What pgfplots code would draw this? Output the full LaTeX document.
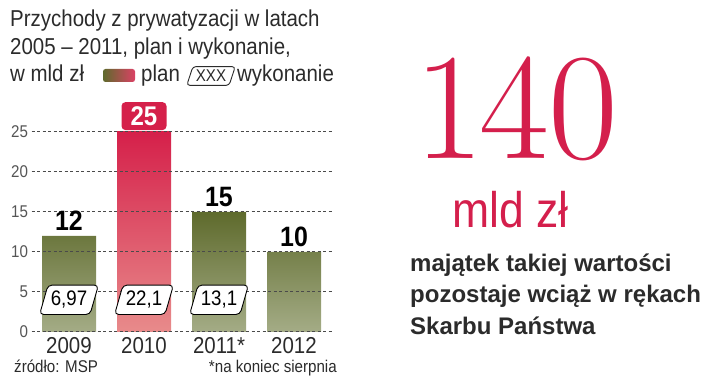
\documentclass[border=0pt]{standalone}
\usepackage{fontspec}
\usepackage{graphicx}
\usepackage{pgfplots}
\pgfplotsset{compat=1.18}
\usetikzlibrary{shapes.geometric}
\newfontfamily\cond[FakeStretch=0.89]{Liberation Sans}
\newfontfamily\sans{Liberation Sans}
\definecolor{gtop}{HTML}{5E6A2C}
\definecolor{gbot}{HTML}{A4AC86}
\definecolor{rtop}{HTML}{D5204A}
\definecolor{rbot}{HTML}{E88B8B}
\definecolor{txt}{HTML}{2B2B2B}
\definecolor{red140}{HTML}{D41F4C}
\definecolor{gridc}{HTML}{4A4A4A}
\begin{document}
\begin{tikzpicture}[x=1pt,y=1pt]
\useasboundingbox (0,0) rectangle (720,387);
\begin{axis}[at={(42,69)}, anchor=south west, scale only axis,
  width=300pt, height=200pt, xmin=-0.5, xmax=3.5, ymin=0, ymax=25,
  clip=false, axis line style={draw=none}, major tick length=0pt,
  ytick={0,5,10,15,20,25}, xtick={0,1,2,3},
  xticklabels={2009,2010,2011*,2012},
  /pgf/number format/assume math mode=true,
  yticklabel style={font=\cond\fontsize{17}{17}\selectfont, text=txt!80},
  xticklabel style={font=\cond\fontsize{23}{23}\selectfont, text=txt, anchor=base, yshift=-22pt},
]
\addplot[ybar, bar width=54pt, bar shift=0pt, draw=none, top color=gtop, bottom color=gbot] coordinates {(0,12) (2,15) (3,10)};
\addplot[ybar, bar width=54pt, bar shift=0pt, draw=none, top color=rtop, bottom color=rbot] coordinates {(1,25)};
\draw[gridc, line width=1pt, dash pattern=on 3pt off 2.5pt] (axis cs:-0.5,0) -- (axis cs:3.5,0);
\draw[gridc, line width=1pt, dash pattern=on 3pt off 2.5pt] (axis cs:-0.5,5) -- (axis cs:3.5,5);
\draw[gridc, line width=1pt, dash pattern=on 3pt off 2.5pt] (axis cs:-0.5,10) -- (axis cs:3.5,10);
\draw[gridc, line width=1pt, dash pattern=on 3pt off 2.5pt] (axis cs:-0.5,15) -- (axis cs:3.5,15);
\draw[gridc, line width=1pt, dash pattern=on 3pt off 2.5pt] (axis cs:-0.5,20) -- (axis cs:3.5,20);
\draw[gridc, line width=1pt, dash pattern=on 3pt off 2.5pt] (axis cs:-0.5,25) -- (axis cs:3.5,25);
% top values
\addplot[draw=none, mark=none, nodes near coords, point meta=explicit symbolic,
  every node near coord/.style={anchor=base, yshift=5.5pt, text=black, font=\cond\bfseries\fontsize{28}{28}\selectfont}]
  coordinates {(0,12)[12] (2,15)[15] (3,10)[10]};
\addplot[draw=none, mark=none, nodes near coords, point meta=explicit symbolic,
  every node near coord/.style={anchor=south, yshift=1.5pt, fill=rtop, text=white, rounded corners=4pt,
  minimum width=45pt, minimum height=28pt, inner sep=1pt, font=\cond\bfseries\fontsize{27}{27}\selectfont}]
  coordinates {(1,25)[25]};
% execution values
\addplot[draw=none, mark=none, nodes near coords, point meta=explicit symbolic,
  every node near coord/.style={anchor=center, shape=trapezium, trapezium left angle=74, trapezium right angle=106,
  draw=black, line width=0.9pt, fill=white, rounded corners=4pt, text=black,
  text width=40pt, align=center, inner xsep=1pt, inner ysep=6pt,
  font=\cond\fontsize{21}{21}\selectfont}]
  coordinates {(0,4)[6,97] (1,4)[22,1] (2,4)[13,1]};
\end{axis}
% title
\node[anchor=base west, inner sep=0, text=txt, font=\cond\fontsize{23}{23}\selectfont] at (10,360) {Przychody z prywatyzacji w latach};
\node[anchor=base west, inner sep=0, text=txt, font=\cond\fontsize{23}{23}\selectfont] at (10,332) {2005 – 2011, plan i wykonanie,};
\node[anchor=base west, inner sep=0, text=txt, font=\cond\fontsize{23}{23}\selectfont] at (10,305) {w mld zł};
\shade[left color=gtop, right color=rtop!85, rounded corners=2.5pt] (103,305) rectangle (135,318);
\node[anchor=base west, inner sep=0, text=txt, font=\cond\fontsize{23}{23}\selectfont] at (141,305) {plan};
\node[shape=trapezium, trapezium left angle=72, trapezium right angle=108, draw=txt, line width=0.9pt,
  rounded corners=3pt, inner xsep=3pt, inner ysep=3.5pt, text=txt, font=\cond\fontsize{17}{17}\selectfont] at (211,311) {XXX};
\node[anchor=base west, inner sep=0, text=txt, font=\cond\fontsize{23}{23}\selectfont] at (237,305) {wykonanie};
% footnotes
\node[anchor=base west, inner sep=0, text=txt, font=\cond\fontsize{17}{17}\selectfont] at (14,14) {źródło: MSP};
\node[anchor=base east, inner sep=0, text=txt, font=\cond\fontsize{17}{17}\selectfont] at (337,14) {*na koniec sierpnia};
% right side
\node[anchor=base west, inner sep=0, text=red140] at (414,228) {\fontsize{152}{152}\selectfont 1\kern-5pt 40};
\node[anchor=base west, inner sep=0, text=red140, font=\cond\fontsize{50}{50}\selectfont] at (452,159) {mld zł};
\node[anchor=base west, inner sep=0, text=txt, font=\sans\bfseries\fontsize{24}{24}\selectfont] at (410,115) {majątek takiej wartości};
\node[anchor=base west, inner sep=0, text=txt, font=\sans\bfseries\fontsize{24}{24}\selectfont] at (410,84) {pozostaje wciąż w rękach};
\node[anchor=base west, inner sep=0, text=txt, font=\sans\bfseries\fontsize{24}{24}\selectfont] at (410,52) {Skarbu Państwa};
\end{tikzpicture}
\end{document}
